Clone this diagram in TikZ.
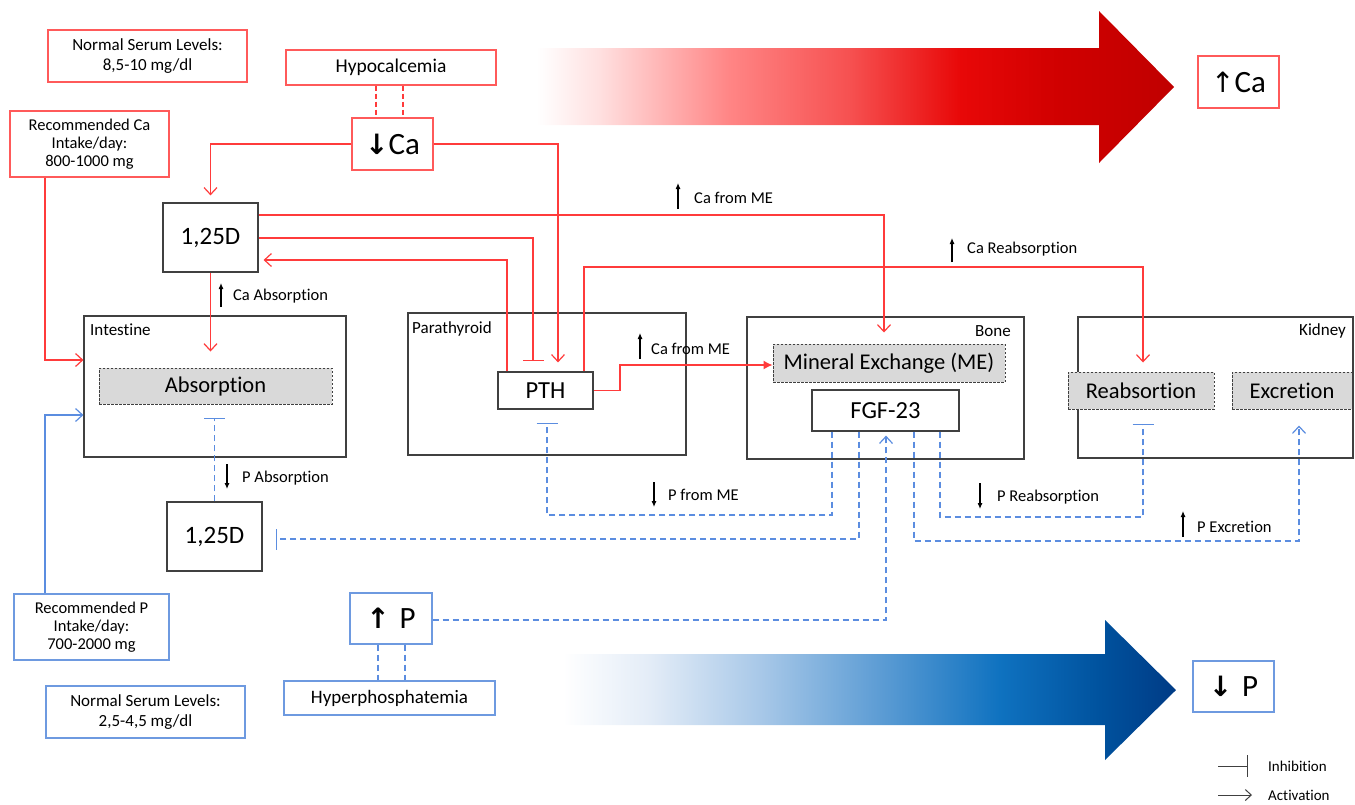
\documentclass[tikz,border=0pt]{standalone}
\usepackage{fontspec}
\setmainfont{Carlito}[Ligatures={NoCommon}]
\newfontfamily\symf{DejaVu Sans}
\usetikzlibrary{arrows.meta}
\definecolor{cred}{HTML}{FF3B3B}
\definecolor{bred}{HTML}{FF5A5A}
\definecolor{cblue}{HTML}{5B8DE0}
\definecolor{bblue}{HTML}{6E9AE0}
\definecolor{cdark}{HTML}{404040}
\definecolor{pgray}{HTML}{D9D9D9}
\definecolor{r1}{HTML}{FFE0E0}
\definecolor{r2}{HTML}{FF8585}
\definecolor{r3}{HTML}{F65050}
\definecolor{r4}{HTML}{E80808}
\definecolor{r5}{HTML}{D00000}
\definecolor{r6}{HTML}{C00000}
\definecolor{b1}{HTML}{E3ECF7}
\definecolor{b2}{HTML}{A8C8E8}
\definecolor{b3}{HTML}{5C9CD4}
\definecolor{b4}{HTML}{0F72C0}
\definecolor{b5}{HTML}{00529E}
\definecolor{b6}{HTML}{003B85}
\pgfdeclarehorizontalshading{redshade}{100bp}{color(0bp)=(white); color(25bp)=(white); color(29.9bp)=(r1); color(40.1bp)=(r2); color(49.6bp)=(r3); color(58.2bp)=(r4); color(66bp)=(r5); color(75bp)=(r6); color(100bp)=(r6)}
\pgfdeclarehorizontalshading{blueshade}{100bp}{color(0bp)=(white); color(25bp)=(white); color(32.1bp)=(b1); color(41.1bp)=(b2); color(50.9bp)=(b3); color(60.6bp)=(b4); color(68.8bp)=(b5); color(75bp)=(b6); color(100bp)=(b6)}
\newcommand\fsz[2]{\fontsize{#1}{#2}\selectfont}
\tikzset{
  rbox/.style={draw=bred, line width=1.2pt, fill=white, inner sep=0pt, align=center},
  bbox/.style={draw=bblue, line width=1.2pt, fill=white, inner sep=0pt, align=center},
  kbox/.style={draw=cdark, line width=1.2pt, fill=white, inner sep=0pt, align=center},
  pbox/.style={draw=cdark, fill=pgray, dash pattern=on 2.5pt off 1.5pt, line width=1pt, inner sep=0pt, align=center},
  rl/.style={draw=cred, line width=1.2pt},
  bl/.style={draw=cblue, line width=1.2pt, dash pattern=on 6pt off 4pt},
  bs/.style={draw=cblue, line width=1.2pt},
  rdash/.style={draw=cred, line width=1.2pt, dash pattern=on 5pt off 3pt},
  act/.style={-{Straight Barb[length=7pt,width=13pt]}},
  inh/.style={-{Bar[width=21pt]}},
  lbl/.style={inner sep=0pt, font=\fsz{16.5}{19}},
  clbl/.style={inner sep=0pt, font=\fsz{17}{20}},
  leg/.style={inner sep=0pt, font=\fsz{15}{18}},
  sarr/.style={-{Latex[length=6pt,width=5pt]}, line width=1.1pt, black},
}
\begin{document}
\begin{tikzpicture}[x=1pt,y=-1pt]
\useasboundingbox (0,0) rectangle (1355,804);
% big arrows
\shade[shading=redshade] (537,48) -- (1099,48) -- (1099,11) -- (1174,87) -- (1099,163) -- (1099,125) -- (537,125) -- cycle;
\shade[shading=blueshade] (563,654) -- (1105,654) -- (1105,620) -- (1176,690) -- (1105,760) -- (1105,725) -- (563,725) -- cycle;

% containers
\node[kbox, minimum width=262pt, minimum height=141pt] (intestine) at (215,386.5) {};
\node[kbox, minimum width=278pt, minimum height=142pt] (parathyroid) at (547,384) {};
\node[kbox, minimum width=277pt, minimum height=142pt] (bone) at (885.5,388) {};
\node[kbox, minimum width=275pt, minimum height=141pt] (kidney) at (1215.5,387.5) {};
\node[clbl, anchor=west] (intlbl) at (90,330) {Intestine};
\node[clbl, anchor=west] (parlbl) at (412,329) {Parathyroid};
\node[clbl, anchor=east] (bonelbl) at (1011,331) {Bone};
\node[clbl, anchor=east] (kidlbl) at (1346,331) {Kidney};

% red boxes
\node[rbox, minimum width=199pt, minimum height=52pt, font=\fsz{17}{20}] (caserum) at (147.5,56) {Normal Serum Levels:\\8,5-10 mg/dl};
\node[rbox, minimum width=210pt, minimum height=35pt, font=\fsz{19.5}{22}] (hypo) at (391,67.5) {Hypocalcemia};
\node[rbox, minimum width=81pt, minimum height=52pt, font=\fsz{31}{34}] (ca) at (392.5,144) {{\symf\bfseries\fsz{28}{30}↓}Ca};
\node[rbox, minimum width=159pt, minimum height=66pt, font=\fsz{16.5}{18.3}] (recca) at (89.5,144) {Recommended Ca\\Intake/day:\\800-1000 mg};
\node[rbox, minimum width=81pt, minimum height=52pt, font=\fsz{31}{34}] (upca) at (1238.5,82) {{\symf\fsz{28}{30}↑}Ca};

% blue boxes
\node[bbox, minimum width=155pt, minimum height=66pt, font=\fsz{16.5}{18.3}] (recp) at (91.5,627) {Recommended P\\Intake/day:\\700-2000 mg};
\node[bbox, minimum width=199pt, minimum height=52pt, font=\fsz{17}{20}] (pserum) at (145.5,712) {Normal Serum Levels:\\2,5-4,5 mg/dl};
\node[bbox, minimum width=82pt, minimum height=51pt, font=\fsz{31}{34}] (upP) at (391,618.5) {{\symf\bfseries\fsz{28}{30}↑}\hspace{10pt}P};
\node[bbox, minimum width=211pt, minimum height=34pt, font=\fsz{19}{22}] (hyperp) at (389.5,698) {Hyperphosphatemia};
\node[bbox, minimum width=81pt, minimum height=51pt, font=\fsz{31}{34}] (downP) at (1233.5,686.5) {{\symf\bfseries\fsz{28}{30}↓}\hspace{10pt}P};

% black boxes
\node[kbox, minimum width=95pt, minimum height=69pt, font=\fsz{25}{28}] (d1) at (210.5,237.5) {1,25D};
\node[kbox, minimum width=95pt, minimum height=69pt, font=\fsz{25}{28}] (d2) at (214.5,536.5) {1,25D};
\node[kbox, minimum width=95pt, minimum height=37pt, font=\fsz{24.5}{28}] (pth) at (545.5,390.5) {PTH};
\node[kbox, minimum width=147pt, minimum height=41pt, font=\fsz{24.5}{28}] (fgf) at (885.5,410.5) {FGF-23};

% process boxes
\node[pbox, minimum width=233pt, minimum height=36pt, font=\fsz{22.5}{24}] (absorb) at (215.5,386) {Absorption};
\node[pbox, minimum width=232pt, minimum height=38pt, font=\fsz{22.5}{24}] (me) at (889,363) {Mineral Exchange (ME)};
\node[pbox, minimum width=146pt, minimum height=37pt, font=\fsz{22.5}{24}] (reab) at (1141,390.5) {Reabsortion};
\node[pbox, minimum width=120pt, minimum height=37pt, font=\fsz{22.5}{24}] (excr) at (1292,390.5) {Excretion};

% helper coordinates
\coordinate (h1) at (376,0);
\coordinate (h2) at (403,0);
\coordinate (g1) at (378,0);
\coordinate (g2) at (405,0);
\coordinate (c558) at (558,144);
\coordinate (c45a) at (45,360);
\coordinate (c884) at (884,215);
\coordinate (c533) at (533,238);
\coordinate (c507) at (507,260);
\coordinate (c584) at (584,267);
\coordinate (c1143) at (1143,267);
\coordinate (c620) at (620,365);
\coordinate (c45b) at (45,415);
\coordinate (c832) at (832,515);
\coordinate (c547) at (547,515);
\coordinate (c859) at (859,539);
\coordinate (c940) at (940,517);
\coordinate (c1143b) at (1143,517);
\coordinate (c914) at (914,541);
\coordinate (c1299) at (1299,541);
\coordinate (c886) at (886,620);

% red connectors
\draw[rdash] (hypo.south -| h1) -- (ca.north -| h1);
\draw[rdash] (hypo.south -| h2) -- (ca.north -| h2);
\draw[rl,act,shorten >=7pt] (ca.west) -| (d1.north);
\draw[rl,act,shorten >=9pt] (ca.east) -| (pth.north -| c558);
\draw[rl,act] (recca.south -| c45a) |- (intestine.west |- c45a);
\draw[rl,act,shorten >=11pt] (d1.east |- c884) -| (me.north -| c884);
\draw[rl,inh,shorten >=10pt] (d1.east |- c533) -| (pth.north -| c533);
\draw[rl,act,shorten >=5pt] (pth.north -| c507) |- (d1.east |- c507);
\draw[rl,act,shorten >=9pt] (pth.north -| c584) |- (c1143) -- (reab.north -| c1143);
\draw[rl,-{Latex[length=9pt,width=9pt]}] (pth.east) -| (c620) -- (me.west |- c620);
\draw[rl,act,shorten >=16pt] (d1.south) -- (d1.south |- absorb.north);

% blue connectors
\draw[bs,act] (recp.north -| c45b) |- (intestine.west |- c45b);
\draw[bl,inh,shorten >=13pt] (d2.north) -- (d2.north |- absorb.south);
\draw[bl,inh,shorten >=13pt] (fgf.south -| c832) |- (c547) -- (pth.south -| c547);
\draw[bl,inh,shorten >=13pt] (fgf.south -| c859) |- (d2.east |- c859);
\draw[bl,inh,shorten >=14pt] (fgf.south -| c940) |- (c1143b) -- (reab.south -| c1143b);
\draw[bl,act,shorten >=16pt] (fgf.south -| c914) |- (c1299) -- (excr.south -| c1299);
\draw[bl,act,shorten >=4pt] (upP.east |- c886) -| (fgf.south -| c886);
\draw[bl] (upP.south -| g1) -- (hyperp.north -| g1);
\draw[bl] (upP.south -| g2) -- (hyperp.north -| g2);

% labels with small arrows
\node[lbl, anchor=west] (l1) at (694,198) {Ca from ME};
\draw[sarr] ([xshift=-16pt,yshift=-11pt]l1.west) -- ([xshift=-16pt,yshift=15pt]l1.west);
\node[lbl, anchor=west] (l2) at (967,249) {Ca Reabsorption};
\draw[sarr] ([xshift=-15pt,yshift=-13pt]l2.west) -- ([xshift=-15pt,yshift=11pt]l2.west);
\node[lbl, anchor=west] (l3) at (233,296) {Ca Absorption};
\draw[sarr] ([xshift=-12pt,yshift=-11pt]l3.west) -- ([xshift=-12pt,yshift=13pt]l3.west);
\node[lbl, anchor=west] (l4) at (651,349) {Ca from ME};
\draw[sarr] ([xshift=-11pt,yshift=-10pt]l4.west) -- ([xshift=-11pt,yshift=16pt]l4.west);
\node[lbl, anchor=west] (l5) at (242,478) {P Absorption};
\draw[sarr] ([xshift=-15pt,yshift=14pt]l5.west) -- ([xshift=-15pt,yshift=-11pt]l5.west);
\node[lbl, anchor=west] (l6) at (668,495) {P from ME};
\draw[sarr] ([xshift=-14pt,yshift=13pt]l6.west) -- ([xshift=-14pt,yshift=-12pt]l6.west);
\node[lbl, anchor=west] (l7) at (997,497) {P Reabsorption};
\draw[sarr] ([xshift=-17pt,yshift=14pt]l7.west) -- ([xshift=-17pt,yshift=-12pt]l7.west);
\node[lbl, anchor=west] (l8) at (1197,527) {P Excretion};
\draw[sarr] ([xshift=-14pt,yshift=-10pt]l8.west) -- ([xshift=-14pt,yshift=16pt]l8.west);

% legend
\node[leg, anchor=west] (inhl) at (1268,766) {Inhibition};
\node[leg, anchor=west] (actl) at (1268,795) {Activation};
\draw[line width=1pt, cdark, -{Bar[width=22pt]}] ([xshift=-50pt]inhl.west) -- ([xshift=-20pt]inhl.west);
\draw[line width=1pt, cdark, -{Straight Barb[length=6pt,width=11pt]}] ([xshift=-50pt]actl.west) -- ([xshift=-16pt]actl.west);
\end{tikzpicture}
\end{document}
